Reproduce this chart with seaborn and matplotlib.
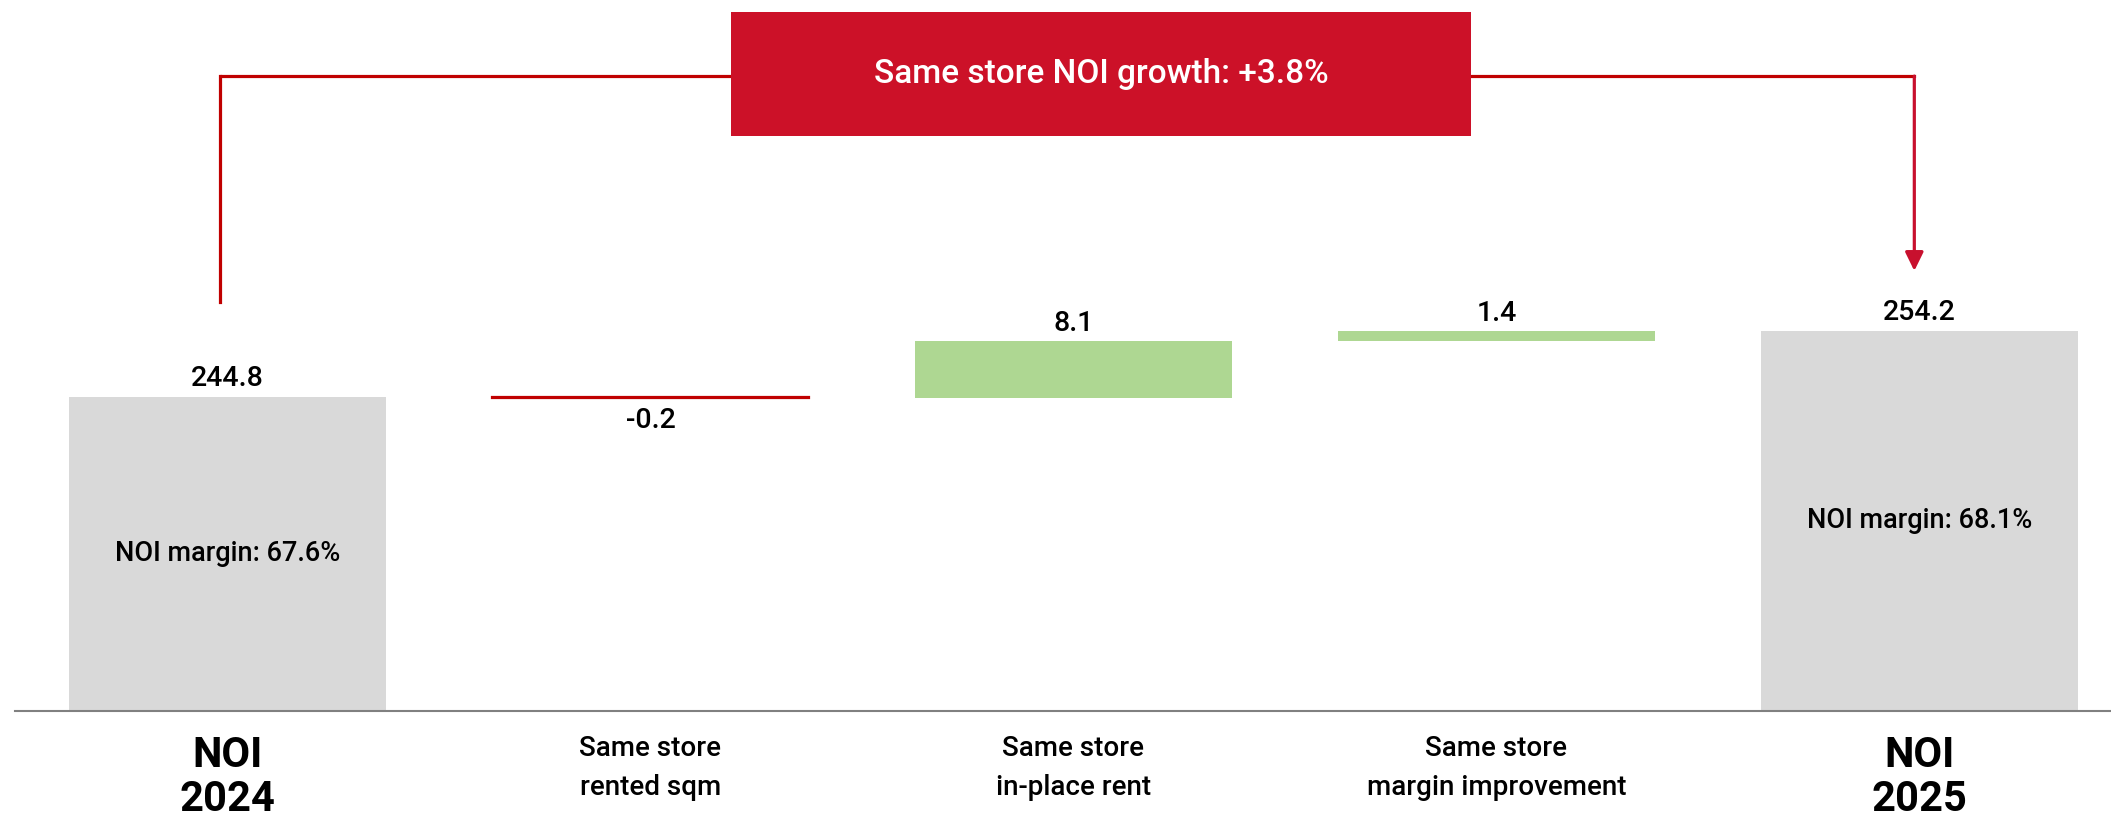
import matplotlib
matplotlib.use("Agg")
import matplotlib.pyplot as plt
import numpy as np
import pandas as pd
import seaborn as sns
from matplotlib.patches import Rectangle

# ---------------- data ----------------
categories = ["NOI\n2024", "Same store\nrented sqm", "Same store\nin-place rent",
              "Same store\nmargin improvement", "NOI\n2025"]
values = [244.8, -0.2, 8.1, 1.4, 254.2]
is_total = [True, False, False, False, True]
value_labels = ["244.8", "-0.2", "8.1", "1.4", "254.2"]
margin_labels = ["NOI margin: 67.6%", "", "", "", "NOI margin: 68.1%"]
growth_label = "Same store NOI growth: +3.8%"

# ---------------- style ----------------
sns.set_theme(style="white")
plt.rcParams["font.family"] = ["Roboto", "DejaVu Sans"]
plt.rcParams["text.color"] = "black"
plt.rcParams["xtick.color"] = "black"

GREY = "#D9D9D9"
GREEN = "#AED792"
RED_LINE = "#C00000"
RED_BOX = "#CC1128"
RED_ARROW = "#C8102E"

AXIS_FLOOR = 200.0
AXIS_TOP = 301.3

# waterfall geometry
bottoms, heights = [], []
running = 0.0
for v, t in zip(values, is_total):
    if t:
        bottoms.append(0.0)
        heights.append(v)
        running = v
    else:
        bottoms.append(running)
        heights.append(v)
        running += v

colors = []
for v, t in zip(values, is_total):
    if t:
        colors.append(GREY)
    elif v < 0:
        colors.append(RED_LINE)
    else:
        colors.append(GREEN)

df = pd.DataFrame({"category": categories, "height": heights})

fig = plt.figure(figsize=(21.11, 8.25), dpi=100)
ax = fig.add_axes([15 / 2111, 114 / 825, 2096 / 2111, 711 / 825])

sns.barplot(data=df, x="category", y="height", bottom=bottoms, width=0.75,
            errorbar=None, color=GREY, ax=ax, order=categories)

for patch, c, v in zip(ax.patches, colors, values):
    patch.set_facecolor(c)
    if v < 0:
        patch.set_edgecolor(c)
        patch.set_linewidth(1.6)
    else:
        patch.set_edgecolor("none")

ax.set_ylim(AXIS_FLOOR, AXIS_TOP)
ax.set_xlim(-0.5024, 4.453)

# value labels
for i, (b, h, lab) in enumerate(zip(bottoms, heights, value_labels)):
    end = b + h
    off = 13 if h >= 0 else -16
    ax.annotate(lab, xy=(i, end), xytext=(0, off), textcoords="offset points",
                ha="center", va="center", fontsize=20.5, fontweight="medium",
                color="black")

# margin labels inside total bars
for i, (lab, v) in enumerate(zip(margin_labels, values)):
    if lab:
        ax.text(i, (AXIS_FLOOR + v) / 2, lab, ha="center", va="center",
                fontsize=19.5, fontweight="medium", color="black")

# axes styling
ax.set_xlabel("")
ax.set_ylabel("")
ax.set_yticks([])
for s in ["left", "right", "top"]:
    ax.spines[s].set_visible(False)
ax.spines["bottom"].set_color("#808080")
ax.spines["bottom"].set_linewidth(1.5)
ax.spines["bottom"].set_zorder(5)

ax.set_xticks(range(len(categories)))
ax.set_xticklabels(categories)
ax.tick_params(axis="x", length=0, pad=17)
for lab, t in zip(ax.get_xticklabels(), is_total):
    lab.set_color("black")
    if t:
        lab.set_fontsize(30)
        lab.set_fontweight("bold")
        lab.set_linespacing(1.1)
    else:
        lab.set_fontsize(20)
        lab.set_fontweight("medium")
        lab.set_linespacing(1.58)

# connector with growth box
trans = ax.get_xaxis_transform()
y_line = 0.893
box_x0, box_x1 = 1.19, 2.94
box_y0, box_y1 = 0.809, 0.983
x_left, x_right = -0.017, 3.988
ax.plot([x_left, x_left], [0.575, y_line], color=RED_LINE, lw=2.3, transform=trans,
        solid_capstyle="projecting", clip_on=False)
ax.plot([x_left, box_x0], [y_line, y_line], color=RED_LINE, lw=2.3, transform=trans,
        solid_capstyle="butt", clip_on=False)
ax.plot([box_x1, x_right], [y_line, y_line], color=RED_LINE, lw=2.3, transform=trans,
        solid_capstyle="projecting", clip_on=False)
ax.annotate("", xy=(x_right, 0.619), xytext=(x_right, y_line), xycoords=trans,
            textcoords=trans,
            arrowprops=dict(arrowstyle="-|>,head_length=0.45,head_width=0.22",
                            color=RED_ARROW, lw=2.3, shrinkA=0, shrinkB=0,
                            mutation_scale=25))
ax.add_patch(Rectangle((box_x0, box_y0), box_x1 - box_x0, box_y1 - box_y0,
                       transform=trans, facecolor=RED_BOX, edgecolor="none",
                       clip_on=False, zorder=4))
ax.text((box_x0 + box_x1) / 2, (box_y0 + box_y1) / 2, growth_label, transform=trans,
        ha="center", va="center", fontsize=24, fontweight="medium", color="white",
        zorder=5)

fig.savefig("out.png", dpi=100)
